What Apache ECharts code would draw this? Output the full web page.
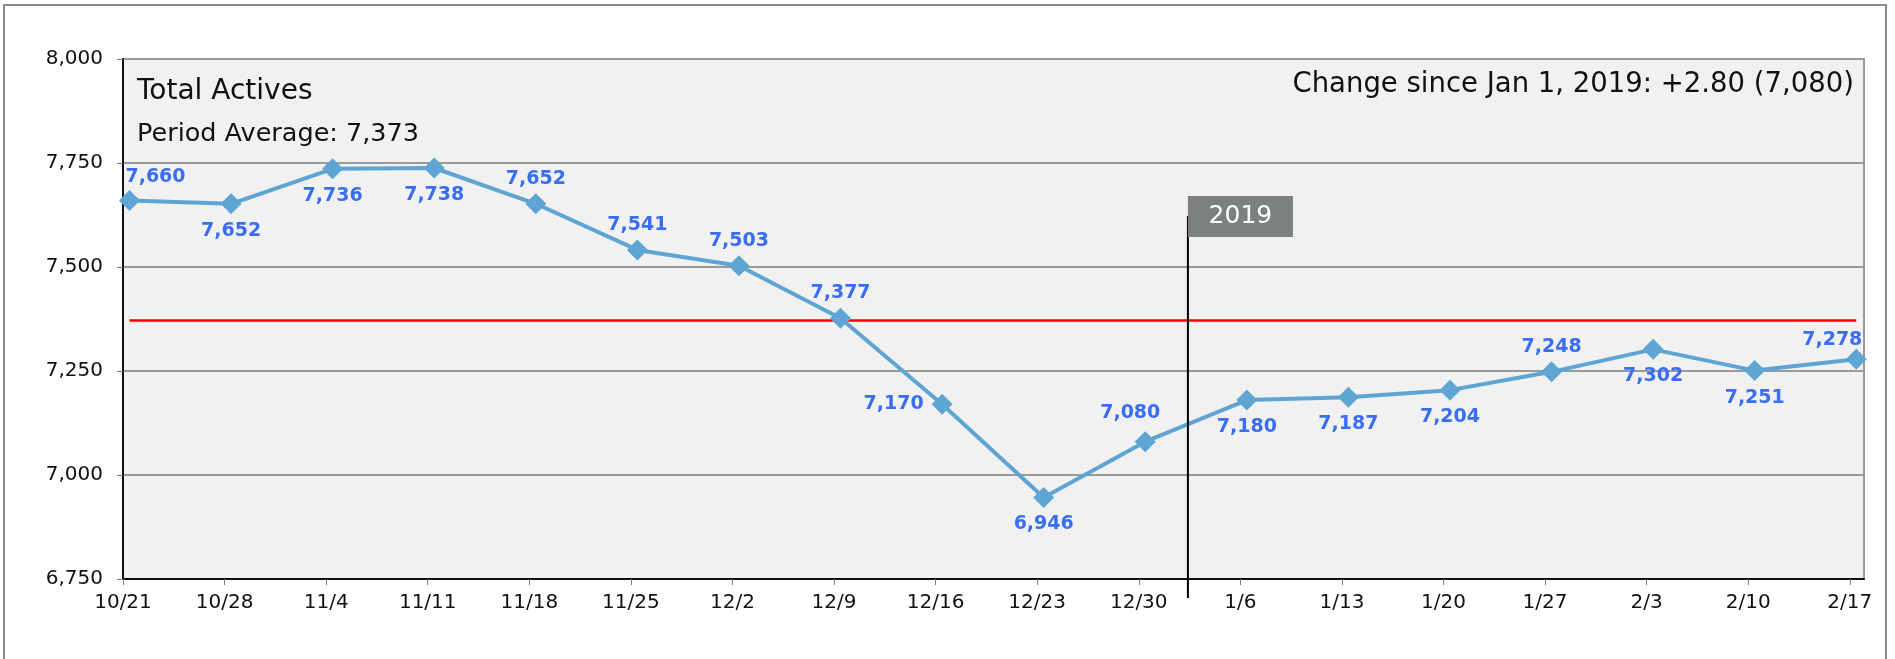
<!DOCTYPE html>
<html>
<head>
<meta charset="utf-8">
<script src="https://cdn.jsdelivr.net/npm/echarts@6/dist/echarts.min.js"></script>
<style>
  html, body { margin: 0; padding: 0; background: #ffffff; }
  #chart { width: 1895px; height: 659px; }
</style>
</head>
<body>
<div id="chart"></div>
<script>
// ---- data ----
const categories = ['10/21','10/28','11/4','11/11','11/18','11/25','12/2','12/9','12/16','12/23','12/30','1/6','1/13','1/20','1/27','2/3','2/10','2/17'];
const totalActives = [7660,7652,7736,7738,7652,7541,7503,7377,7170,6946,7080,7180,7187,7204,7248,7302,7251,7278];
const yTickValues = [6750,7000,7250,7500,7750,8000];
const seriesName = 'Total Actives';
const yearLabel = '2019';
const baselineIndex = 10;          // 12/30 value, the reference for "Change since Jan 1"
const yearDividerIndex = 10.42;    // where the 2019 divider sits between 12/30 and 1/6

// ---- label placement (style, separate from data) ----
const labelPos = ['top','bottom','bottom','bottom','top','top','top','top','left','bottom','top','bottom','bottom','bottom','top','bottom','bottom','top'];
const labelOffset = {0:[26,2], 10:[-15,-4], 17:[-24,6]};

const FONT = '"DejaVu Sans", Verdana, sans-serif';
const fmt = v => Math.round(v).toLocaleString('en-US');

const avg = totalActives.reduce((a,b)=>a+b,0) / totalActives.length;
const baseVal = totalActives[baselineIndex];
const lastVal = totalActives[totalActives.length-1];
const pct = (lastVal - baseVal) / baseVal * 100;
const changeText = 'Change since Jan 1, ' + yearLabel + ': ' + (pct >= 0 ? '+' : '') + pct.toFixed(2) + ' (' + fmt(baseVal) + ')';

const idx = categories.map((_, i) => i);
const shift = 0.064;           // points sit slightly right of the tick marks
const visMax = 17.14;

const chart = echarts.init(document.getElementById('chart'), null, {renderer: 'canvas'});

const seriesData = totalActives.map((v, i) => {
  const lab = { position: labelPos[i] };
  if (labelPos[i] === 'bottom') lab.distance = 7;
  if (labelPos[i] === 'left') lab.distance = 8;
  if (labelOffset[i]) lab.offset = labelOffset[i];
  return { value: [i, v], label: lab };
});

chart.setOption({
  animation: false,
  backgroundColor: '#ffffff',
  grid: {
    left: 123, right: 31, top: 59, bottom: 80,
    show: true, backgroundColor: '#f1f1f1', borderColor: '#9a9a9a', borderWidth: 2
  },
  xAxis: [
    {
      type: 'value', min: 0, max: visMax, interval: 1,
      axisLine: { show: true, lineStyle: { color: '#111', width: 2 } },
      axisTick: { show: true, length: 6, customValues: idx, lineStyle: { color: '#777', width: 1 } },
      axisLabel: {
        customValues: idx, margin: 14, fontSize: 20, fontFamily: FONT, color: '#111',
        formatter: v => (Math.abs(v - Math.round(v)) < 1e-6 && categories[Math.round(v)] !== undefined) ? categories[Math.round(v)] : ''
      },
      splitLine: { show: false }
    },
    {
      type: 'value', min: -shift, max: visMax - shift, show: false,
      splitLine: { show: false }
    }
  ],
  yAxis: {
    type: 'value',
    min: yTickValues[0], max: yTickValues[yTickValues.length-1],
    interval: yTickValues[1] - yTickValues[0],
    axisLine: { show: true, lineStyle: { color: '#111', width: 2 } },
    axisTick: { show: true, length: 6, lineStyle: { color: '#777', width: 1 } },
    axisLabel: { margin: 20, fontSize: 20, fontFamily: FONT, color: '#111', formatter: v => fmt(v) },
    splitLine: { show: true, lineStyle: { color: '#9a9a9a', width: 2 } }
  },
  series: [{
    name: seriesName,
    type: 'line',
    xAxisIndex: 1,
    data: seriesData,
    symbol: 'diamond',
    symbolSize: 21,
    lineStyle: { color: '#5ea5d3', width: 4 },
    itemStyle: { color: '#5ea5d3' },
    label: {
      show: true, fontSize: 19, fontWeight: 'bold', fontFamily: FONT, color: '#3a6ef2',
      formatter: p => fmt(p.value[1])
    },
    markLine: {
      silent: true, symbol: ['none','none'],
      label: { show: false },
      lineStyle: { color: '#ff0000', width: 2.5, type: 'solid' },
      data: [[ { coord: [0, avg] }, { coord: [totalActives.length - 1, avg] } ]],
      z: 1
    },
    z: 3
  }]
});

const dx = chart.convertToPixel({ xAxisIndex: 1 }, yearDividerIndex);

chart.setOption({
  graphic: [
    { type: 'rect', z: 0, silent: true, shape: { x: 4, y: 5, width: 1882, height: 700 },
      style: { fill: 'none', stroke: '#8c8c8c', lineWidth: 2 } },
    { type: 'text', z: 10, x: 137, y: 91.5,
      style: { text: seriesName, fontSize: 28, fontFamily: FONT, fill: '#111', align: 'left', verticalAlign: 'middle' } },
    { type: 'text', z: 10, x: 137, y: 134,
      style: { text: 'Period Average: ' + fmt(avg), fontSize: 25.5, fontFamily: FONT, fill: '#111', align: 'left', verticalAlign: 'middle' } },
    { type: 'text', z: 10, x: 1854, y: 85,
      style: { text: changeText, fontSize: 27.5, fontFamily: FONT, fill: '#111', align: 'right', verticalAlign: 'middle' } },
    { type: 'line', z: 20, shape: { x1: dx, y1: 216, x2: dx, y2: 598 },
      style: { stroke: '#000', lineWidth: 2 } },
    { type: 'rect', z: 21, shape: { x: dx, y: 196, width: 105, height: 41 },
      style: { fill: '#7c807f' } },
    { type: 'text', z: 22, x: dx + 52.5, y: 216.5,
      style: { text: yearLabel, fontSize: 25, fontFamily: FONT, fill: '#ffffff', align: 'center', verticalAlign: 'middle' } }
  ]
});
</script>
</body>
</html>
